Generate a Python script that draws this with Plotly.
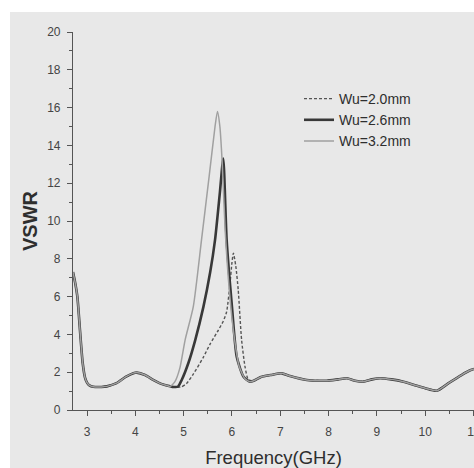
import plotly.graph_objects as go

# Shared low-frequency and high-frequency parts of the curves
freq_low = [2.71, 2.75, 2.80, 2.855, 2.91, 2.96, 3.0, 3.05, 3.13, 3.3, 3.41, 3.61, 3.8, 3.96, 4.03, 4.2, 4.37, 4.51, 4.65]
vswr_low = [7.3, 6.8, 6.0, 4.2, 2.5, 1.7, 1.45, 1.3, 1.23, 1.22, 1.25, 1.42, 1.75, 1.95, 1.98, 1.85, 1.59, 1.41, 1.3]

freq_high = [6.45, 6.6, 6.8, 7.03, 7.2, 7.55, 7.96, 8.2, 8.38, 8.55, 8.72, 8.9, 9.07, 9.3, 9.55, 9.8, 10.0, 10.24, 10.5, 10.75, 10.93, 11.05]
vswr_high = [1.55, 1.75, 1.85, 1.94, 1.8, 1.59, 1.55, 1.62, 1.68, 1.55, 1.5, 1.62, 1.68, 1.62, 1.5, 1.3, 1.15, 1.02, 1.45, 1.85, 2.1, 2.2]

# Resonance region for each width
freq_w20 = [4.79, 4.95, 5.06, 5.2, 5.41, 5.55, 5.72, 5.82, 5.89, 5.96, 6.0, 6.03, 6.08, 6.13, 6.2, 6.27, 6.34]
vswr_w20 = [1.22, 1.22, 1.4, 1.9, 2.8, 3.5, 4.23, 4.7, 5.2, 6.7, 7.8, 8.3, 7.6, 6.35, 3.7, 2.3, 1.6]

freq_w26 = [4.79, 4.88, 4.96, 5.1, 5.24, 5.41, 5.55, 5.65, 5.75, 5.82, 5.89, 6.0, 6.1, 6.24, 6.37]
vswr_w26 = [1.22, 1.23, 1.59, 2.5, 3.7, 5.47, 7.3, 9.0, 11.5, 13.3, 9.0, 5.47, 2.8, 1.76, 1.5]

freq_w32 = [4.72, 4.82, 4.92, 5.03, 5.2, 5.37, 5.53, 5.65, 5.70, 5.75, 5.80, 5.86, 5.95, 6.05, 6.15, 6.27, 6.37]
vswr_w32 = [1.25, 1.5, 2.2, 3.7, 5.47, 9.0, 12.4, 15.0, 15.8, 15.0, 13.0, 9.5, 6.2, 3.8, 2.3, 1.65, 1.5]

names = ["Wu=2.0mm", "Wu=2.6mm", "Wu=3.2mm"]
x_ticks = [3, 4, 5, 6, 7, 8, 9, 10, 11]
y_ticks = [0, 2, 4, 6, 8, 10, 12, 14, 16, 18, 20]

BG = "#e8e8e8"
AX = "#555555"

fig = go.Figure()
series = [
    (names[0], freq_w20, vswr_w20, dict(color="#555555", width=1.4, dash="3px,2px", shape="spline", smoothing=0.6)),
    (names[1], freq_w26, vswr_w26, dict(color="#383838", width=2.6, shape="spline", smoothing=0.6)),
    (names[2], freq_w32, vswr_w32, dict(color="#a0a0a0", width=1.5, shape="spline", smoothing=0.6)),
]
for name, fx, fy, line in series:
    xs = freq_low + fx + freq_high
    ys = vswr_low + fy + vswr_high
    fig.add_trace(go.Scatter(x=xs, y=ys, mode="lines", name=name, line=line))

L, T, B = 73, 32, 58
W, H = 474, 468
pw = W - L
ph = H - T - B

def px2paper_x(px):
    return (px - L) / pw

def py2paper_y(py):
    return (H - B - py) / ph

fig.update_layout(
    width=W, height=H,
    margin=dict(l=L, r=0, t=T, b=B, pad=0, autoexpand=False),
    paper_bgcolor=BG,
    plot_bgcolor=BG,
    font=dict(family="Liberation Sans, Arial, sans-serif", color="#333333"),
    showlegend=True,
    legend=dict(
        x=px2paper_x(299), y=py2paper_y(83), xanchor="left", yanchor="top",
        bgcolor="rgba(0,0,0,0)", font=dict(size=14, color="#2e2e2e"),
        tracegroupgap=0,
    ),
    xaxis=dict(
        range=[2.71, 11.01], tickvals=x_ticks, ticktext=[str(v) for v in x_ticks],
        showgrid=False, zeroline=False, showline=True, linecolor=AX, linewidth=1.2,
        ticks="outside", ticklen=5, tickcolor=AX, tickwidth=1.2,
        minor=dict(dtick=0.5, ticks="outside", ticklen=3, tickcolor=AX, tickwidth=1),
        tickfont=dict(size=12, color="#444444"), ticklabelstandoff=5,
        ticklabeloverflow="allow", automargin=False,
        title=dict(text="Frequency(GHz)", font=dict(size=18.5, color="#2e2e2e"), standoff=14),
    ),
    yaxis=dict(
        range=[0, 20], tickvals=y_ticks, ticktext=[str(v) for v in y_ticks],
        showgrid=False, zeroline=False, showline=True, linecolor=AX, linewidth=1.2,
        ticks="outside", ticklen=5, tickcolor=AX, tickwidth=1.2,
        minor=dict(dtick=1, ticks="outside", ticklen=3, tickcolor=AX, tickwidth=1),
        tickfont=dict(size=12, color="#444444"), ticklabelstandoff=4,
        title=dict(text="<b>VSWR</b>", font=dict(size=20, color="#2e2e2e"), standoff=4),
    ),
    shapes=[
        dict(type="rect", xref="paper", yref="paper", layer="below",
             x0=px2paper_x(-2), x1=px2paper_x(10), y0=py2paper_y(H + 2), y1=py2paper_y(-2),
             fillcolor="white", line=dict(width=0)),
        dict(type="rect", xref="paper", yref="paper", layer="below",
             x0=px2paper_x(-2), x1=px2paper_x(W + 2), y0=py2paper_y(12), y1=py2paper_y(-2),
             fillcolor="white", line=dict(width=0)),
    ],
)

fig.write_html("out.html")
